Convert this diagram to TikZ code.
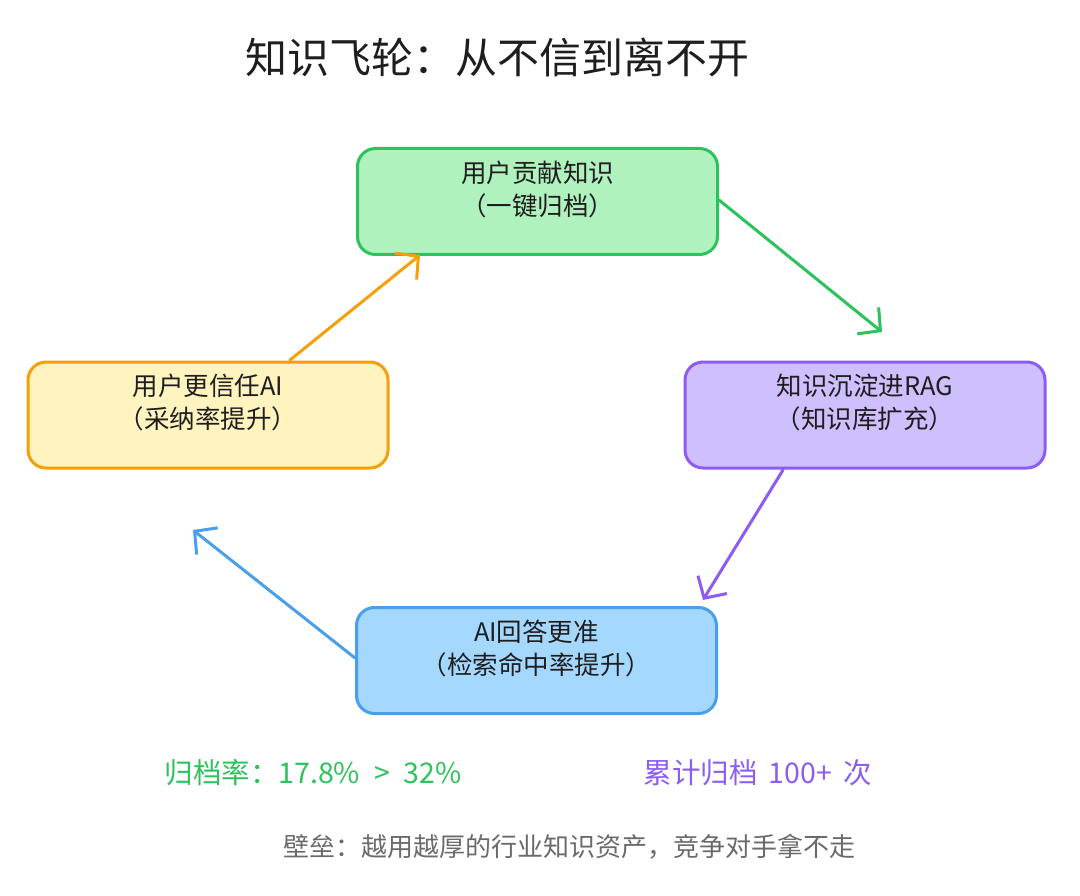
\documentclass[tikz,border=0pt]{standalone}
\usepackage{fontspec}
\setmainfont{Noto Sans CJK SC}
\usetikzlibrary{arrows.meta}
\definecolor{gstroke}{HTML}{2CC25C}
\definecolor{gfill}{HTML}{B0F2BE}
\definecolor{pstroke}{HTML}{8C5CF5}
\definecolor{pfill}{HTML}{D0BFFF}
\definecolor{ystroke}{HTML}{F5A00A}
\definecolor{yfill}{HTML}{FFF3BF}
\definecolor{bstroke}{HTML}{4A9FEA}
\definecolor{bfill}{HTML}{A5D8FF}
\definecolor{ink}{HTML}{1E1E1E}
\definecolor{note}{HTML}{6A6A6A}
\tikzset{
  box/.style={draw, line width=3pt, rounded corners=18pt, minimum width=360pt, minimum height=106pt, inner sep=0pt},
  boxtext/.style={align=center, text=ink, font=\fontsize{25.5}{33}\selectfont},
  arr/.style={line width=3pt, line cap=round, -{Straight Barb[length=16pt,width=34pt,line width=3pt]}},
}
\begin{document}
\begin{tikzpicture}[x=1pt,y=-1pt]
\useasboundingbox (0,0) rectangle (1080,896);
\node[text=ink, font=\fontsize{42}{46}\selectfont] (title) at (497,57) {知识飞轮：从不信到离不开};

\node[box, draw=gstroke, fill=gfill] (g) at (537.5,201.5) {};
\node[box, draw=pstroke, fill=pfill] (p) at (865,415) {};
\node[box, draw=ystroke, fill=yfill] (y) at (208,415) {};
\node[box, draw=bstroke, fill=bfill] (b) at (536.5,660.5) {};

\node[boxtext] (gt) at (537.5,189) {用户贡献知识\\（一键归档）};
\node[boxtext] (pt) at (865,402) {知识沉淀进RAG\\（知识库扩充）};
\node[boxtext] (yt) at (208,402) {用户更信任AI\\（采纳率提升）};
\node[boxtext] (bt) at (536.5,648) {AI回答更准\\（检索命中率提升）};

\coordinate (ga) at (882,332);
\coordinate (pa) at (703,600);
\coordinate (ba) at (193,530);
\coordinate (ya) at (420,255);
\draw[arr, gstroke] (g.east |- 0,200) -- (ga);
\draw[arr, pstroke] (783,470) -- (pa);
\draw[arr, bstroke] (b.west |- 0,658) -- (ba);
\draw[arr, ystroke] (290,360) -- (ya);

\node[text=gstroke, font=\fontsize{28.5}{32}\selectfont, anchor=west] (s1) at (161,773) {归档率：17.8\%\hspace{14pt}>\hspace{14pt}32\%};
\node[text=pstroke, font=\fontsize{28.5}{32}\selectfont, anchor=west] (s2) at (640,773) {累计归档\hspace{5pt} 100+\hspace{5pt} 次};
\node[text=note, font=\fontsize{26}{30}\selectfont] (s3) at (569,847) {壁垒：越用越厚的行业知识资产，竞争对手拿不走};
\end{tikzpicture}
\end{document}
